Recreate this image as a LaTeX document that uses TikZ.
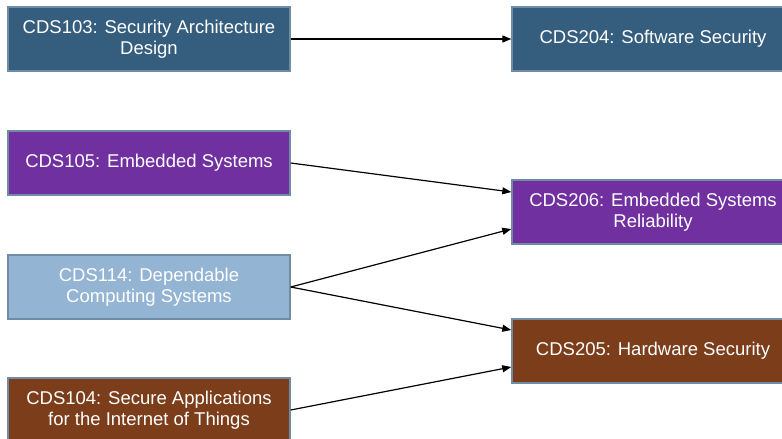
\documentclass[tikz,border=0pt]{standalone}
\usepackage{fontspec}
\setmainfont{Liberation Sans}
\usetikzlibrary{arrows.meta}
\definecolor{cdsblue}{HTML}{355E7E}
\definecolor{cdspurple}{HTML}{7030A0}
\definecolor{cdslight}{HTML}{93B4D2}
\definecolor{cdsbrown}{HTML}{7B3D1A}
\definecolor{cdsedge}{HTML}{6F8BA5}
\tikzset{
  course/.style={draw=cdsedge, line width=1.4pt, text=white, align=center,
    minimum width=282pt, minimum height=64pt, inner sep=0pt,
    font=\fontsize{18.5}{21.5}\selectfont},
  link/.style={line width=1.2pt, -{Triangle[length=9pt,width=7pt]}}
}
\begin{document}
\begin{tikzpicture}[x=1pt,y=-1pt]
  \useasboundingbox (0,0) rectangle (782,439);
  \clip (0,0) rectangle (782,439);
  % first-year courses
  \node[course, fill=cdsblue]   (c103) at (149,39)  {CDS103: Security Architecture\\Design};
  \node[course, fill=cdspurple] (c105) at (149,163) {CDS105: Embedded Systems};
  \node[course, fill=cdslight]  (c114) at (149,287) {CDS114: Dependable\\Computing Systems};
  \node[course, fill=cdsbrown]  (c104) at (149,410) {CDS104: Secure Applications\\for the Internet of Things};
  % second-year courses
  \node[course, fill=cdsblue]   (c204) at (653,39)  {CDS204: Software Security};
  \node[course, fill=cdspurple] (c206) at (653,212) {CDS206: Embedded Systems\\Reliability};
  \node[course, fill=cdsbrown]  (c205) at (653,351) {CDS205: Hardware Security};
  % prerequisites (yshift is in page direction: positive is up)
  \draw[link] (c103.east) -- (c204.west);
  \draw[link] (c105.east) -- ([yshift=20pt]c206.west);
  \draw[link] (c114.east) -- ([yshift=-17pt]c206.west);
  \draw[link] (c114.east) -- ([yshift=21pt]c205.west);
  \draw[link] (c104.east) -- ([yshift=-16pt]c205.west);
\end{tikzpicture}
\end{document}
